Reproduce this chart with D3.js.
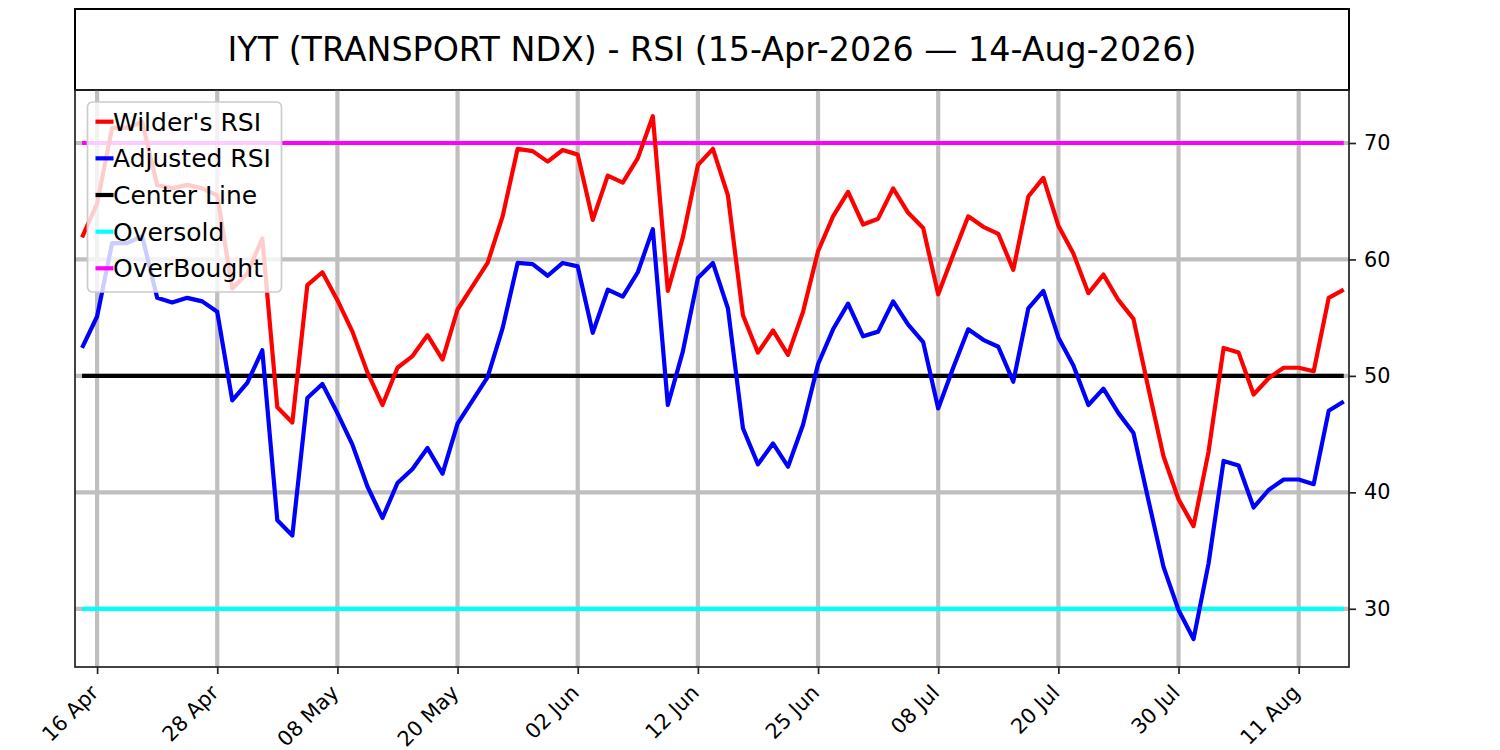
<!DOCTYPE html>
<html lang="en">
  <head>
    <meta charset="utf-8">
    <script src="https://d3js.org/d3.v7.min.js"></script>
    <title>IYT RSI</title>
    <style>
      body { margin: 0; background: #fff; }
      text { font-family: "DejaVu Sans", sans-serif; }
    </style>
  </head>
  <body>
    <script>

    // trading-day index 0..84 (15-Apr-2026 .. 14-Aug-2026)
    var wilder = [61.9, 64.8, 71.3, 71.3, 71.8, 66.4, 66.1, 66.4, 66.1, 65.5,
      57.5, 58.8, 61.8, 47.3, 46.0, 57.8, 58.9, 56.5, 53.8, 50.3,
      47.5, 50.7, 51.7, 53.5, 51.4, 55.7, 57.7, 59.7, 63.7, 69.5,
      69.3, 68.4, 69.4, 69.0, 63.4, 67.2, 66.6, 68.7, 72.3, 57.3,
      61.9, 68.1, 69.5, 65.5, 55.2, 52.0, 53.9, 51.8, 55.5, 60.7,
      63.7, 65.8, 63.0, 63.5, 66.1, 64.0, 62.7, 57.0, 60.4, 63.7,
      62.8, 62.2, 59.1, 65.4, 67.0, 62.9, 60.5, 57.1, 58.7, 56.5,
      54.9, 48.9, 43.1, 39.4, 37.1, 43.5, 52.4, 52.0, 48.4, 49.8,
      50.7, 50.7, 50.4, 56.7, 57.4];

    var adjusted = [52.4, 55.1, 61.4, 61.4, 62.0, 56.7, 56.3, 56.7, 56.4, 55.5,
      47.9, 49.4, 52.2, 37.6, 36.3, 48.1, 49.3, 46.8, 44.1, 40.5,
      37.8, 40.8, 42.0, 43.8, 41.6, 45.9, 47.9, 49.9, 54.1, 59.7,
      59.6, 58.6, 59.7, 59.4, 53.7, 57.4, 56.8, 58.9, 62.6, 47.5,
      52.1, 58.4, 59.7, 55.8, 45.5, 42.4, 44.2, 42.2, 45.8, 51.0,
      54.0, 56.2, 53.4, 53.8, 56.4, 54.4, 52.9, 47.2, 50.7, 54.0,
      53.1, 52.5, 49.5, 55.8, 57.3, 53.3, 50.9, 47.5, 48.9, 46.8,
      45.1, 39.3, 33.6, 29.9, 27.4, 33.9, 42.7, 42.3, 38.7, 40.2,
      41.1, 41.1, 40.7, 47.0, 47.8];

    var tickIndex = [1, 9, 17, 25, 33, 41, 49, 57, 65, 73, 81];
    var tickLabels = ["16 Apr", "28 Apr", "08 May", "20 May", "02 Jun", "12 Jun",
      "25 Jun", "08 Jul", "20 Jul", "30 Jul", "11 Aug"];
    var yTicks = [30, 40, 50, 60, 70];

    var levels = [
      {name: "Center Line", value: 50, color: "#000000"},
      {name: "Oversold", value: 30, color: "#00ffff"},
      {name: "OverBought", value: 70, color: "#ff00ff"}
    ];
    var series = [
      {name: "Wilder's RSI", values: wilder, color: "#ff0000"},
      {name: "Adjusted RSI", values: adjusted, color: "#0000ff"}
    ];

    var margin = {top: 90, left: 75, bottom: 83, right: 151},
        width = 1500 - margin.left - margin.right,
        height = 750 - margin.top - margin.bottom;

    var x = d3.scaleLinear().domain([-0.47, 84.35]).range([0, width]);
    var y = d3.scaleLinear().domain([25, 74.55]).range([height, 0]);

    var svg = d3.select("body").append("svg")
        .attr("width", 1500)
        .attr("height", 750)
        .style("background", "#fff");

    // title box
    svg.append("rect")
        .attr("x", margin.left).attr("y", 9)
        .attr("width", width).attr("height", margin.top - 9)
        .attr("fill", "none").attr("stroke", "#000").attr("stroke-width", 2);
    svg.append("text")
        .attr("x", margin.left + width / 2).attr("y", 61)
        .attr("text-anchor", "middle")
        .style("font-size", "33.3px")
        .text("IYT (TRANSPORT NDX) - RSI (15-Apr-2026 \u2014 14-Aug-2026)");

    var g = svg.append("g")
        .attr("transform", "translate(" + [margin.left, margin.top] + ")");

    g.append("defs").append("clipPath").attr("id", "clip")
      .append("rect").attr("width", width).attr("height", height);

    var plot = g.append("g").attr("clip-path", "url(#clip)");

    // grid
    plot.selectAll(".vgrid").data(tickIndex).enter().append("line")
        .attr("x1", d => x(d)).attr("x2", d => x(d))
        .attr("y1", 0).attr("y2", height)
        .attr("stroke", "#bfbfbf").attr("stroke-width", 4.2);
    plot.selectAll(".hgrid").data(yTicks).enter().append("line")
        .attr("x1", 0).attr("x2", width)
        .attr("y1", d => y(d)).attr("y2", d => y(d))
        .attr("stroke", "#bfbfbf").attr("stroke-width", 4.2);

    // reference levels
    plot.selectAll(".level").data(levels).enter().append("line")
        .attr("x1", x(0)).attr("x2", x(wilder.length - 1))
        .attr("y1", d => y(d.value)).attr("y2", d => y(d.value))
        .attr("stroke", d => d.color).attr("stroke-width", 4.2);

    var line = d3.line().x((d, i) => x(i)).y(d => y(d));

    series.forEach(function(s) {
      plot.append("path")
          .datum(s.values)
          .attr("d", line)
          .attr("fill", "none")
          .attr("stroke", s.color)
          .attr("stroke-width", 4.2)
          .attr("stroke-linejoin", "round");
    });

    // axes
    var xAxis = d3.axisBottom(x)
        .tickValues(tickIndex)
        .tickFormat((d, i) => tickLabels[i])
        .tickSize(7);
    var gx = g.append("g")
        .attr("transform", "translate(0," + height + ")")
        .call(xAxis);
    gx.selectAll("text")
        .attr("font-size", null)
        .style("font-size", "20.8px")
        .attr("fill", "#000")
        .attr("text-anchor", "end")
        .attr("x", 0).attr("y", 0)
        .attr("dy", null)
        .attr("transform", "translate(2,27) rotate(-45)");

    var yAxis = d3.axisRight(y).tickValues(yTicks).tickSize(7).tickPadding(8);
    var gy = g.append("g")
        .attr("transform", "translate(" + width + ",0)")
        .call(yAxis);
    gy.selectAll("text").style("font-size", "20.8px").attr("fill", "#000");

    [gx, gy].forEach(function(a) {
      a.attr("font-size", null);
      a.select(".domain").remove();
      a.selectAll("line").attr("stroke", "#222").attr("stroke-width", 1.7);
    });

    // frame
    g.append("rect")
        .attr("width", width).attr("height", height)
        .attr("fill", "none").attr("stroke", "#222").attr("stroke-width", 1.7);

    // legend
    var legendItems = series.concat(levels);
    var leg = g.append("g").attr("transform", "translate(12.5,12)");
    leg.append("rect")
        .attr("width", 194).attr("height", 190)
        .attr("rx", 5)
        .attr("fill", "#fff").attr("fill-opacity", 0.8)
        .attr("stroke", "#cccccc").attr("stroke-width", 1.7);
    var rows = leg.selectAll(".row").data(legendItems).enter().append("g")
        .attr("transform", (d, i) => "translate(0," + (19.7 + i * 36.65) + ")");
    rows.append("line")
        .attr("x1", 8).attr("x2", 26)
        .attr("stroke", d => d.color).attr("stroke-width", 4.2);
    rows.append("text")
        .attr("x", 25.5).attr("dy", "0.36em")
        .style("font-size", "25px")
        .text(d => d.name);

    </script>
  </body>
</html>
